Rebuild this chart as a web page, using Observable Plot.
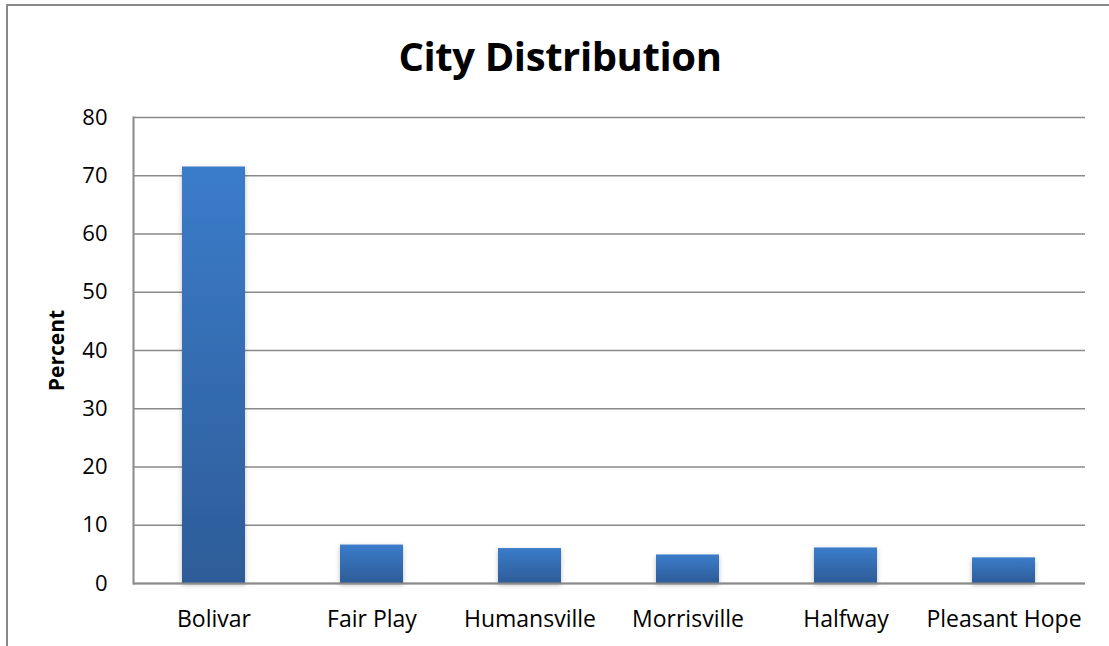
<!DOCTYPE html>
<html>
<head>
<meta charset="utf-8">
<script src="https://cdn.jsdelivr.net/npm/d3@7"></script>
<script src="https://cdn.jsdelivr.net/npm/@observablehq/plot@0.6"></script>
<style>
  html, body { margin: 0; padding: 0; background: #fff; }
  body { width: 1109px; height: 646px; position: relative; overflow: hidden; font-family: "Open Sans", sans-serif; }
  #border { position: absolute; left: 6px; top: 4px; width: 1200px; height: 800px; border: 2px solid #8a8a8a; box-sizing: border-box; }
  #chart { position: absolute; left: 0; top: 0; }
  #title { position: absolute; left: 0; width: 1120px; top: 26px; text-align: center; font-weight: 700; font-size: 40px; line-height: 60px; color: #000; letter-spacing: -0.4px; }
</style>
</head>
<body>
<div id="border"></div>
<div id="chart"></div>
<div id="title">City Distribution</div>
<script>
const cities = ["Bolivar", "Fair Play", "Humansville", "Morrisville", "Halfway", "Pleasant Hope"];
const percents = [71.5, 6.6, 6.0, 4.9, 6.1, 4.4];
const yTicks = [0, 10, 20, 30, 40, 50, 60, 70, 80];
const yLabel = "Percent";

const data = cities.map((c, i) => ({city: c, percent: percents[i]}));

const gradient = () => {
  const ns = "http://www.w3.org/2000/svg";
  const defs = document.createElementNS(ns, "defs");
  const lg = document.createElementNS(ns, "linearGradient");
  lg.setAttribute("id", "barGrad");
  lg.setAttribute("x1", "0"); lg.setAttribute("y1", "0");
  lg.setAttribute("x2", "0"); lg.setAttribute("y2", "1");
  [["0%", "#3b7cca"], ["100%", "#2d5c98"]].forEach(([o, c]) => {
    const s = document.createElementNS(ns, "stop");
    s.setAttribute("offset", o); s.setAttribute("stop-color", c);
    lg.appendChild(s);
  });
  defs.appendChild(lg);
  const f = document.createElementNS(ns, "filter");
  f.setAttribute("id", "shadow");
  f.setAttribute("x", "-20%"); f.setAttribute("y", "-20%");
  f.setAttribute("width", "140%"); f.setAttribute("height", "140%");
  f.innerHTML = '<feDropShadow dx="0" dy="2" stdDeviation="2.5" flood-color="#000" flood-opacity="0.25"/>';
  defs.appendChild(f);
  return defs;
};

const plot = Plot.plot({
  width: 1109,
  height: 646,
  marginLeft: 133,
  marginRight: 24,
  marginTop: 117,
  marginBottom: 63,
  style: { fontFamily: "'Open Sans', sans-serif", fontSize: "22px", color: "#000", background: "transparent", overflow: "visible" },
  x: { domain: cities, paddingInner: 0.6, paddingOuter: 0.3, label: null },
  y: { domain: [0, 80], ticks: yTicks, label: null },
  marks: [
    gradient,
    Plot.gridY(yTicks, { stroke: "#8a8a8a", strokeOpacity: 1, strokeWidth: 1.5 }),
    Plot.frame({ anchor: "left", stroke: "#8a8a8a", strokeWidth: 2 }),
    Plot.barY(data, { x: "city", y: "percent", fill: "url(#barGrad)" }),
    Plot.ruleY([0], { stroke: "#8a8a8a", strokeWidth: 2 }),
    Plot.axisY(yTicks, { tickSize: 0, tickPadding: 26, fontSize: 22, label: null }),
    Plot.axisX({ tickSize: 0, tickPadding: 27, fontSize: 23, label: null }),
    Plot.text([yLabel], { frameAnchor: "left", textAnchor: "middle", dx: -76, rotate: -90, fontWeight: "bold", fontSize: 21, text: d => d })
  ]
});
plot.querySelectorAll("g[fill='url(#barGrad)'] rect").forEach(r => r.setAttribute("filter", "url(#shadow)"));
document.getElementById("chart").appendChild(plot);
</script>
</body>
</html>
